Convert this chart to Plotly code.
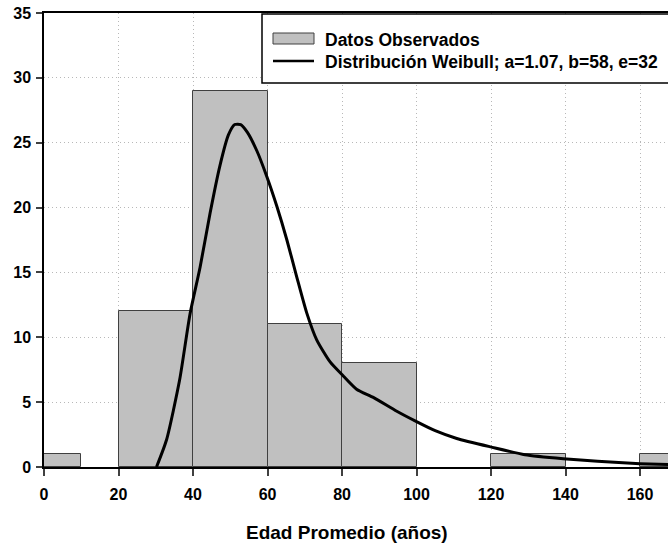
import plotly.graph_objects as go

# Histogram data (observed)
bin_start = [0, 20, 40, 60, 80, 120, 160]
bin_end = [10, 40, 60, 80, 100, 140, 180]
counts = [1, 12, 29, 11, 8, 1, 1]

# Fitted Weibull curve
curve_x = [30.2, 32.9, 36.4, 39.2, 41.9, 44.6, 47.2, 49.5, 51.2, 52.8, 54.6, 57.1, 59.8,
           62.5, 65.2, 67.8, 70.5, 73.2, 76.8, 80.4, 83.9, 88.5, 94.7, 100.0, 105.0,
           110.8, 119.9, 129.1, 139.4, 148.6, 160.0, 168.0]
curve_y = [0.0, 2.1, 6.7, 11.8, 15.4, 19.6, 23.2, 25.6, 26.4, 26.4, 25.8, 24.4, 22.4,
           20.1, 17.5, 14.7, 11.9, 9.8, 8.1, 7.0, 6.0, 5.35, 4.3, 3.5, 2.8,
           2.2, 1.55, 0.95, 0.64, 0.44, 0.26, 0.18]

x_ticks = [0, 20, 40, 60, 80, 100, 120, 140, 160]
y_ticks = [0, 5, 10, 15, 20, 25, 30, 35]

legend_labels = ["Datos Observados", "Distribución Weibull; a=1.07, b=58, e=32"]
x_title = "Edad Promedio (años)"

FONT = "Liberation Sans, Arial, sans-serif"

bar_x = [(s + e) / 2 for s, e in zip(bin_start, bin_end)]
bar_w = [e - s for s, e in zip(bin_start, bin_end)]

fig = go.Figure()
fig.add_trace(go.Bar(x=bar_x, y=counts, width=bar_w,
                     marker=dict(color="#c0c0c0", line=dict(color="#404040", width=1)),
                     name=legend_labels[0], showlegend=False))
fig.add_trace(go.Scatter(x=curve_x, y=curve_y, mode="lines",
                         line=dict(color="black", width=3, shape="spline", smoothing=0.6),
                         name=legend_labels[1], showlegend=False))

FW, FH = 668, 544
L, T, W, H = 44, 13, 624, 454

# helpers converting pixels to paper coordinates
def px(xp):
    return (xp - L) / W

def py(yp):
    return (T + H - yp) / H

shapes = [
    # legend box
    dict(type="rect", xref="paper", yref="paper", x0=px(262), x1=px(700), y0=py(83), y1=py(14),
         line=dict(color="black", width=1.5), fillcolor="white", layer="above"),
    # bar symbol
    dict(type="rect", xref="paper", yref="paper", x0=px(273), x1=px(314), y0=py(44), y1=py(33),
         line=dict(color="#404040", width=1), fillcolor="#c0c0c0", layer="above"),
    # line symbol
    dict(type="line", xref="paper", yref="paper", x0=px(273), x1=px(314), y0=py(61), y1=py(61),
         line=dict(color="black", width=2.5), layer="above"),
]

annotations = [
    dict(text="<b>%s</b>" % legend_labels[0], xref="paper", yref="paper", x=px(323), y=py(40),
         xanchor="left", yanchor="middle", showarrow=False, font=dict(size=17.5, color="black", family=FONT)),
    dict(text="<b>%s</b>" % legend_labels[1], xref="paper", yref="paper", x=px(323), y=py(61.5),
         xanchor="left", yanchor="middle", showarrow=False, font=dict(size=17.5, color="black", family=FONT)),
    dict(text="<b>%s</b>" % x_title, xref="paper", yref="paper", x=px(347), y=py(532),
         xanchor="center", yanchor="middle", showarrow=False, font=dict(size=19, color="black", family=FONT)),
]

fig.update_layout(
    width=FW, height=FH,
    margin=dict(l=L, r=FW - L - W, t=T, b=FH - T - H, pad=0, autoexpand=False),
    paper_bgcolor="white", plot_bgcolor="white",
    font=dict(family=FONT, size=16, color="black"),
    bargap=0,
    shapes=shapes, annotations=annotations,
    showlegend=False,
)
fig.update_xaxes(range=[0, 167.5], tickvals=x_ticks, ticktext=["<b>%d</b>" % v for v in x_ticks],
                 automargin=False, ticklabeloverflow="allow", ticklabelstandoff=5,
                 showline=True, linecolor="black", linewidth=2, mirror=True,
                 ticks="outside", ticklen=7, tickcolor="#404040", tickwidth=1.5,
                 showgrid=True, gridcolor="#b8b8b8", griddash="1px,3px", gridwidth=1,
                 zeroline=False, tickfont=dict(size=16, family=FONT, color="black"))
fig.update_yaxes(range=[0, 35], tickvals=y_ticks, ticktext=["<b>%d</b>" % v for v in y_ticks],
                 automargin=False, ticklabeloverflow="allow", ticklabelstandoff=2,
                 showline=True, linecolor="black", linewidth=1.5,
                 ticks="outside", ticklen=6, tickcolor="#404040", tickwidth=1.5,
                 showgrid=True, gridcolor="#b8b8b8", griddash="1px,3px", gridwidth=1,
                 zeroline=False, tickfont=dict(size=16, family=FONT, color="black"))

fig.write_html("out.html", config={"displayModeBar": False},
               post_script="document.body.style.margin='0';document.body.style.overflow='hidden';")
